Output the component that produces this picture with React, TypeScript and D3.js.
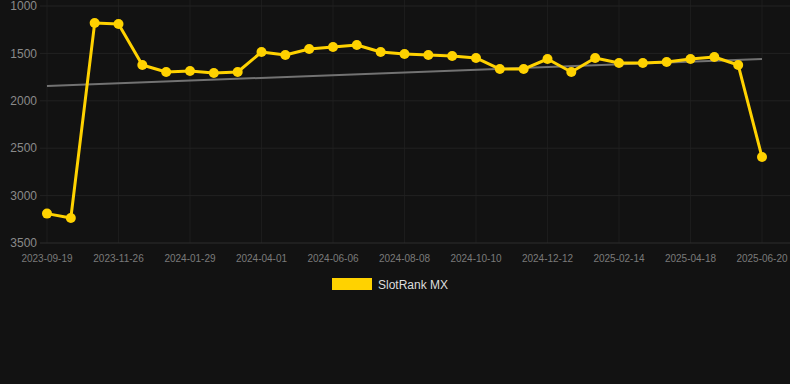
import React from "react";
import * as d3 from "d3";

const dates = [
  "2023-09-19", "2023-10-12", "2023-11-03", "2023-11-26", "2023-12-17", "2024-01-07",
  "2024-01-29", "2024-02-19", "2024-03-11", "2024-04-01", "2024-04-23", "2024-05-15",
  "2024-06-06", "2024-06-27", "2024-07-18", "2024-08-08", "2024-08-29", "2024-09-19",
  "2024-10-10", "2024-10-31", "2024-11-21", "2024-12-12", "2025-01-03", "2025-01-24",
  "2025-02-14", "2025-03-07", "2025-03-28", "2025-04-18", "2025-05-09", "2025-05-30",
  "2025-06-20",
];
const ranks = [
  3190, 3236, 1180, 1190, 1622, 1696, 1686, 1707, 1696, 1485, 1517, 1454, 1432, 1411,
  1485, 1506, 1517, 1527, 1548, 1665, 1665, 1559, 1696, 1548, 1601, 1601, 1590, 1559,
  1538, 1622, 2593,
];
const trendEnds = [1844, 1559];
const yTicks = [1000, 1500, 2000, 2500, 3000, 3500];
const seriesName = "SlotRank MX";

const W = 790;
const H = 384;

export default function App() {
  const x = d3.scalePoint<string>().domain(dates).range([47, 762]);
  const y = d3.scaleLinear().domain([1000, 3500]).range([6, 243]);
  const line = d3
    .line<number>()
    .x((_, i) => x(dates[i]) as number)
    .y((d) => y(d));
  const tickDates = dates.filter((_, i) => i % 3 === 0);
  const gold = "#FFD200";
  return (
    <svg
      width={W}
      height={H}
      style={{ position: "absolute", left: 0, top: 0, background: "#121212" }}
      fontFamily="'Liberation Sans', Arial, sans-serif"
    >
      <rect x={0} y={0} width={W} height={H} fill="#121212" />
      {tickDates.map((d) => (
        <line key={"v" + d} x1={x(d)} x2={x(d)} y1={0} y2={243} stroke="#1c1c1c" strokeWidth={1} />
      ))}
      {yTicks.map((t, i) => (
        <g key={t}>
          <line
            x1={40}
            x2={790}
            y1={y(t)}
            y2={y(t)}
            stroke={i === yTicks.length - 1 ? "#2c2c2c" : "#222222"}
            strokeWidth={1}
          />
          <text x={37} y={y(t)} dy="0.35em" textAnchor="end" fontSize={12} fill="#8a8a8a">
            {t}
          </text>
        </g>
      ))}
      {tickDates.map((d) => (
        <text key={"t" + d} x={x(d)} y={262} textAnchor="middle" fontSize={10} fill="#7a7a7a">
          {d}
        </text>
      ))}
      <line
        x1={x(dates[0])}
        x2={x(dates[dates.length - 1])}
        y1={y(trendEnds[0])}
        y2={y(trendEnds[1])}
        stroke="#727272"
        strokeWidth={2}
      />
      <path d={line(ranks) || ""} fill="none" stroke={gold} strokeWidth={3} strokeLinejoin="round" />
      {ranks.map((v, i) => (
        <circle key={i} cx={x(dates[i])} cy={y(v)} r={5} fill={gold} />
      ))}
      <rect x={332} y={278} width={40} height={12} fill={gold} />
      <text x={378} y={288.5} fontSize={12} fill="#dddddd">
        {seriesName}
      </text>
    </svg>
  );
}
